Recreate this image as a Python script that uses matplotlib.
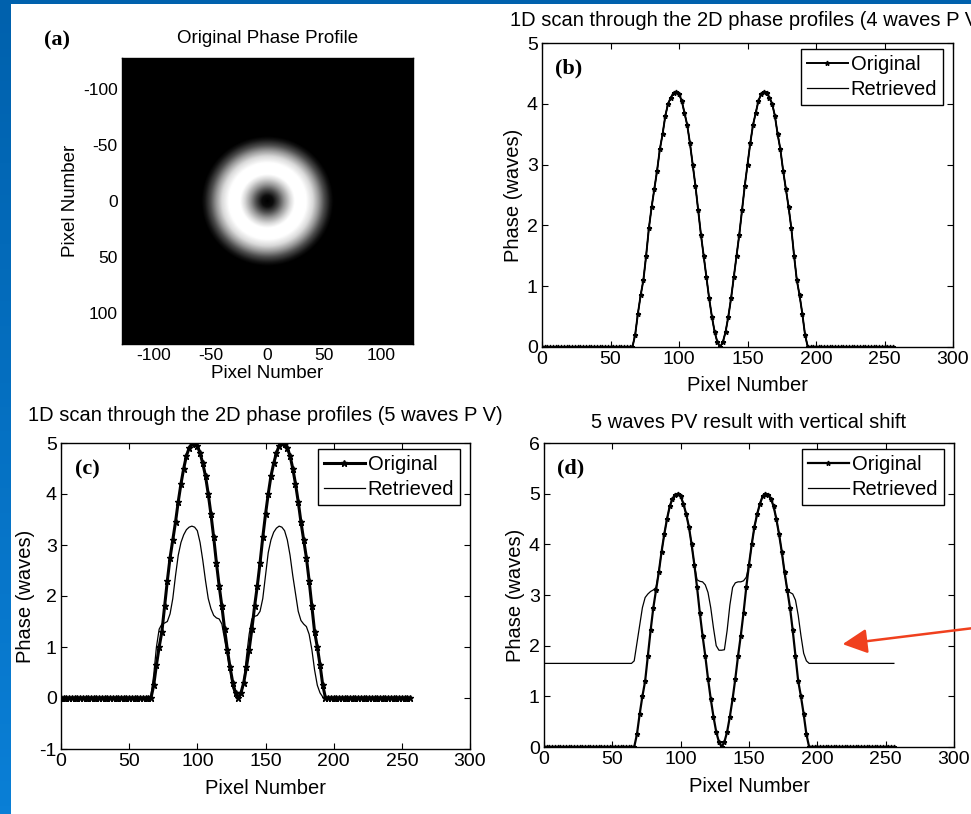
import numpy as np
import matplotlib
matplotlib.use("Agg")
import matplotlib.pyplot as plt

plt.rcParams['font.family'] = ['Liberation Sans', 'DejaVu Sans']
plt.rcParams['axes.unicode_minus'] = False

# sample positions along the scan line (pixel number)
pixel = np.arange(0, 257, 2)

# original profile, 4 waves peak-to-valley
original_4 = [0.0] * 33 + [
    0.0, 0.2, 0.55, 0.85, 1.1, 1.5, 1.95, 2.3, 2.6, 2.9, 3.25, 3.5, 3.8, 4.0, 4.1, 4.18, 4.2,
    4.16, 4.05, 3.85, 3.65, 3.35, 3.0, 2.65, 2.25, 1.85, 1.5, 1.15, 0.8, 0.5, 0.25, 0.08, 0.0,
    0.08, 0.25, 0.5, 0.8, 1.15, 1.5, 1.85, 2.25, 2.65, 3.0, 3.35, 3.65, 3.85, 4.05, 4.16,
    4.2, 4.18, 4.1, 4.0, 3.8, 3.5, 3.25, 2.9, 2.6, 2.3, 1.95, 1.5, 1.1, 0.85, 0.55, 0.2, 0.0,
] + [0.0] * 31

# original profile, 5 waves peak-to-valley
original_5 = [0.0] * 33 + [
    0.0, 0.25, 0.65, 1.0, 1.3, 1.8, 2.3, 2.75, 3.1, 3.45, 3.85, 4.2, 4.5, 4.75, 4.9, 4.98, 5.0,
    4.95, 4.8, 4.6, 4.35, 4.0, 3.6, 3.15, 2.65, 2.2, 1.8, 1.35, 0.95, 0.6, 0.3, 0.1, 0.0,
    0.1, 0.3, 0.6, 0.95, 1.35, 1.8, 2.2, 2.65, 3.15, 3.6, 4.0, 4.35, 4.6, 4.8, 4.95,
    5.0, 4.98, 4.9, 4.75, 4.5, 4.2, 3.85, 3.45, 3.1, 2.75, 2.3, 1.8, 1.3, 1.0, 0.65, 0.25, 0.0,
] + [0.0] * 31

# retrieved profile, 5 waves PV
retrieved_5 = [0.0] * 33 + [
    0.05, 0.45, 1.0, 1.35, 1.45, 1.47, 1.5, 1.65, 1.95, 2.4, 2.8, 3.05, 3.2, 3.3, 3.35, 3.37, 3.35,
    3.28, 3.05, 2.7, 2.3, 1.95, 1.75, 1.62, 1.57, 1.55, 1.45, 1.15, 0.85, 0.55, 0.2, 0.05, 0.0,
    0.05, 0.3, 0.8, 1.25, 1.55, 1.6, 1.62, 1.7, 1.95, 2.4, 2.85, 3.1, 3.25, 3.33,
    3.37, 3.35, 3.28, 3.1, 2.8, 2.4, 2.05, 1.7, 1.52, 1.45, 1.4, 1.25, 0.95, 0.55, 0.25, 0.1, 0.02, 0.0,
] + [0.0] * 31

# retrieved profile after vertical shift
retrieved_shift = [1.65] * 33 + [
    1.7, 2.05, 2.4, 2.75, 2.95, 3.02, 3.07, 3.1, 3.15, 3.45, 3.85, 4.2, 4.5, 4.75, 4.9, 4.98, 5.0,
    4.95, 4.8, 4.6, 4.35, 4.0, 3.6, 3.3, 3.27, 3.26, 3.2, 3.05, 2.75, 2.35, 2.0, 1.91, 1.91,
    1.92, 2.3, 2.8, 3.15, 3.24, 3.26, 3.26, 3.28, 3.35, 3.6, 4.0, 4.35, 4.6, 4.8, 4.95,
    5.0, 4.98, 4.9, 4.75, 4.5, 4.2, 3.85, 3.45, 3.1, 3.05, 3.02, 2.9, 2.6, 2.2, 1.85, 1.7, 1.65,
] + [1.65] * 31

# radial grey level of the 2D phase map
ring_radius = [0, 5, 10, 15, 20, 24, 34, 40, 45, 50, 55, 58, 200]
ring_level = [0.0, 0.05, 0.3, 0.6, 0.85, 1.0, 1.0, 0.85, 0.6, 0.3, 0.08, 0.0, 0.0]

x_ticks = [0, 50, 100, 150, 200, 250, 300]
map_ticks = [-100, -50, 0, 50, 100]

W, H = 971, 814
fig = plt.figure(figsize=(W / 100, H / 100), dpi=100)
fig.patch.set_facecolor('white')

# slide frame: blue strip on the left and along the top
strip = fig.add_axes([0, 0, 10 / W, 1])
strip.imshow(np.linspace(0, 1, 100).reshape(-1, 1), aspect='auto',
             cmap=matplotlib.colors.LinearSegmentedColormap.from_list('b', ['#0061ad', '#0a7fd6']))
strip.axis('off')
top = fig.add_axes([0, 1 - 4 / H, 1, 4 / H])
top.set_facecolor('#0061ad')
top.set_xticks([]); top.set_yticks([])
for s in top.spines.values():
    s.set_visible(False)


def box(l, r, t, b):
    return [l / W, (H - b) / H, (r - l) / W, (b - t) / H]


def style(ax, size=14):
    ax.tick_params(direction='in', top=True, right=True, length=4, width=0.8,
                   labelsize=size, pad=3)
    for s in ax.spines.values():
        s.set_linewidth(1.0)


def profile(ax, orig, retr, ms, lw):
    ax.plot(pixel, orig, color='black', lw=lw, marker='*', ms=ms, label='Original')
    ax.plot(pixel, retr, color='black', lw=0.9, label='Retrieved')
    ax.set_xlim(0, 300)
    ax.set_xticks(x_ticks)
    ax.set_xlabel('Pixel Number', fontsize=14.5, labelpad=6)
    ax.set_ylabel('Phase (waves)', fontsize=14.5, labelpad=3)
    leg = ax.legend(loc='upper right', bbox_to_anchor=(0.976, 0.98), borderaxespad=0,
                    fontsize=14.5, fancybox=False, edgecolor='black', framealpha=1,
                    handlelength=2.0, handletextpad=0.15, labelspacing=0.3,
                    borderpad=0.3)
    leg.get_frame().set_linewidth(1.0)
    style(ax)


# (a) 2D phase map
ax_a = fig.add_axes(box(122, 413, 58, 344))
coord = np.arange(-128, 128) + 0.5
gx, gy = np.meshgrid(coord, coord)
phase_map = np.interp(np.hypot(gx, gy), ring_radius, ring_level)
ax_a.imshow(phase_map, cmap='gray', extent=[-128, 128, 128, -128], aspect='auto',
            interpolation='bilinear')
ax_a.set_xticks(map_ticks)
ax_a.set_yticks(map_ticks)
ax_a.set_xlabel('Pixel Number', fontsize=13.5, labelpad=1)
ax_a.set_ylabel('Pixel Number', fontsize=13.5, labelpad=3)
ax_a.set_title('Original Phase Profile', fontsize=13.5, pad=11)
style(ax_a, 12.5)

# (b) 4 waves PV
ax_b = fig.add_axes(box(542, 953, 43, 347))
profile(ax_b, original_4, original_4, 3.5, 1.4)
ax_b.plot(pixel, original_4, color='black', lw=0.9)
ax_b.set_ylim(0, 5)
ax_b.set_title('1D scan through the 2D phase profiles (4 waves P V)', fontsize=14.5, pad=12)

# (c) 5 waves PV
ax_c = fig.add_axes(box(61, 470, 443, 749))
profile(ax_c, original_5, retrieved_5, 4.5, 2.2)
ax_c.set_ylim(-1, 5)
ax_c.set_title('1D scan through the 2D phase profiles (5 waves P V)', fontsize=14.5, pad=16)

# (d) vertical shift
ax_d = fig.add_axes(box(544, 954, 443, 747))
profile(ax_d, original_5, retrieved_shift, 3.5, 1.6)
ax_d.set_ylim(0, 6)
ax_d.set_title('5 waves PV result with vertical shift', fontsize=14.5, pad=11)
ax_d.annotate('', xy=(218.5, 2.03), xytext=(330, 2.4), annotation_clip=False,
              arrowprops=dict(arrowstyle='-|>,head_length=1.0,head_width=0.5',
                              color='#f0401e', lw=1.8, mutation_scale=15,
                              shrinkA=0, shrinkB=0))

# panel letters
serif = dict(family=['Liberation Serif', 'DejaVu Serif'], fontweight='bold', fontsize=16)
fig.text(57 / W, 1 - 40 / H, '(a)', ha='center', va='center', **serif)
for ax, letter in [(ax_b, '(b)'), (ax_c, '(c)'), (ax_d, '(d)')]:
    ax.text(0.065, 0.915, letter, transform=ax.transAxes, ha='center', va='center', **serif)

fig.savefig('out.png', dpi=100)
